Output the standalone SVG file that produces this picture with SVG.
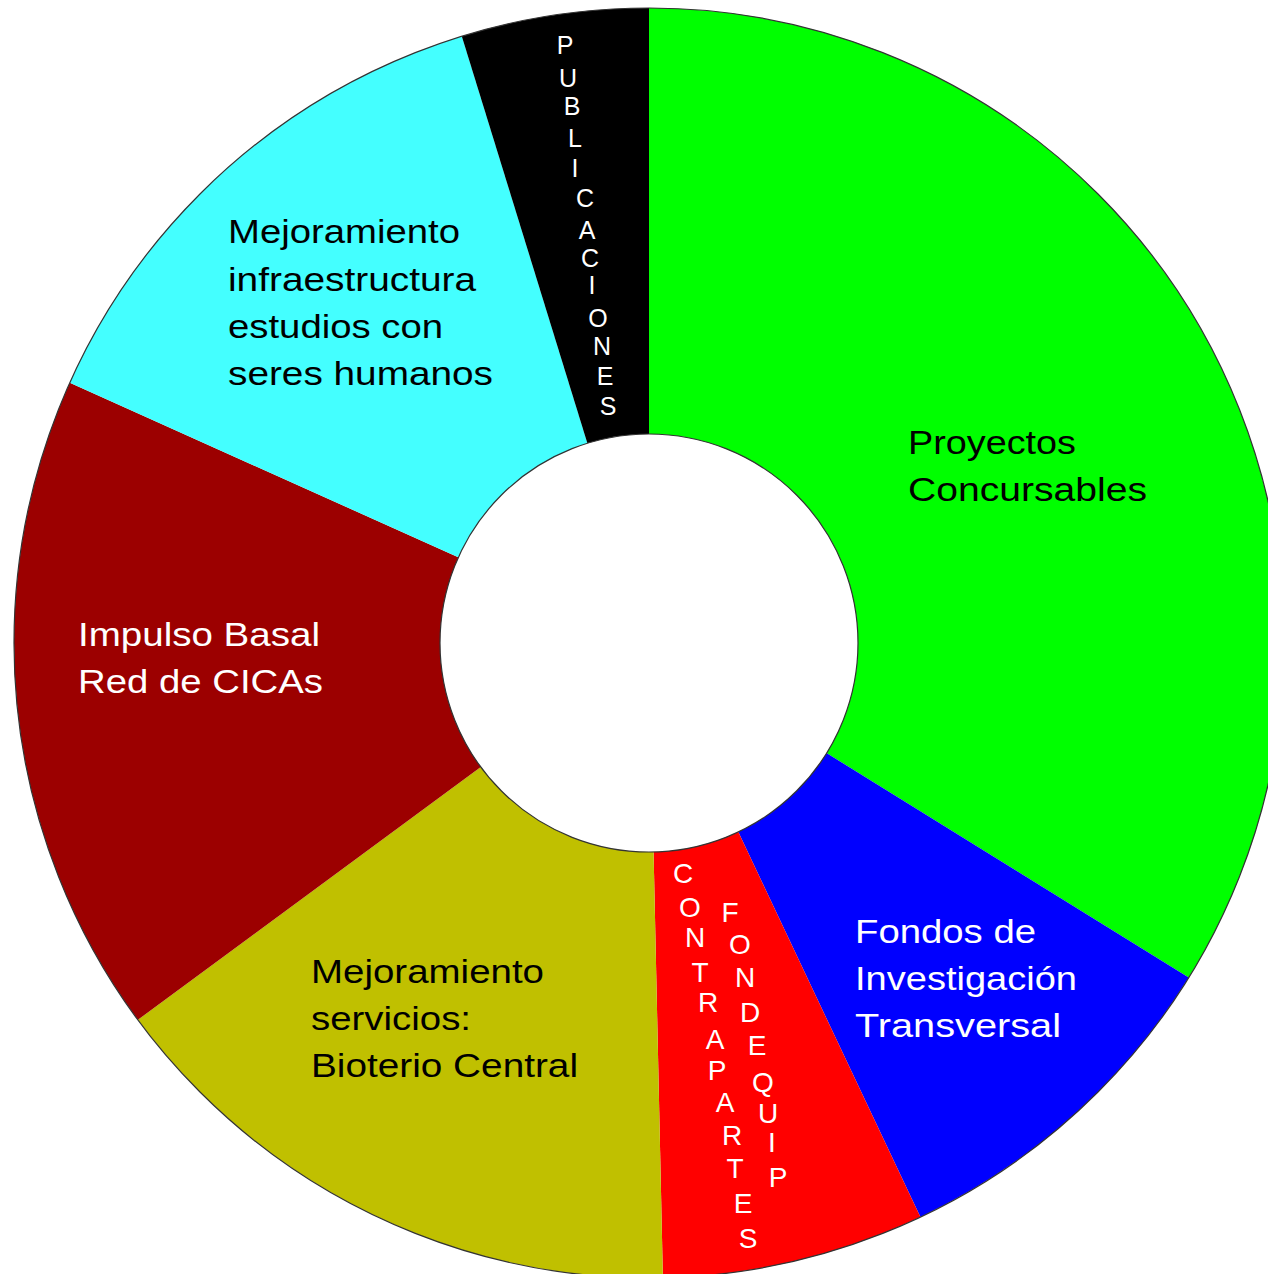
<svg xmlns="http://www.w3.org/2000/svg" width="1268" height="1274" viewBox="0 0 1268 1274">
<style>
.lbl{font-family:"Liberation Sans",Arial,sans-serif;font-size:34px}
.v1{font-family:"Liberation Sans",Arial,sans-serif;font-size:25px;fill:#fff;text-anchor:middle}
.v2{font-family:"Liberation Sans",Arial,sans-serif;font-size:28px;fill:#fff;text-anchor:middle}
.dark{fill:#000}
.light{fill:#fff}
</style>
<rect width="1268" height="1274" fill="#fff"/>
<g id="proyectos">
<path d="M649 643 L649 8 A635 635 0 0 1 1188.7 977.6 Z" fill="#00ff00"/>
<text class="lbl dark" x="908" y="454" textLength="168" lengthAdjust="spacingAndGlyphs">Proyectos</text>
<text class="lbl dark" x="908" y="501" textLength="239" lengthAdjust="spacingAndGlyphs">Concursables</text>
</g>
<g id="fondos">
<path d="M649 643 L1188.7 977.6 A635 635 0 0 1 920.4 1217.1 Z" fill="#0000ff"/>
<text class="lbl light" x="855" y="943" textLength="181" lengthAdjust="spacingAndGlyphs">Fondos de</text>
<text class="lbl light" x="855" y="990" textLength="222" lengthAdjust="spacingAndGlyphs">Investigación</text>
<text class="lbl light" x="855" y="1037" textLength="206" lengthAdjust="spacingAndGlyphs">Transversal</text>
</g>
<g id="contrapartes">
<path d="M649 643 L920.4 1217.1 A635 635 0 0 1 662.9 1277.8 Z" fill="#ff0000"/>
<text class="v2" x="683" y="883">C</text>
<text class="v2" x="690" y="917">O</text>
<text class="v2" x="695" y="947">N</text>
<text class="v2" x="700" y="982">T</text>
<text class="v2" x="708" y="1012">R</text>
<text class="v2" x="715" y="1049">A</text>
<text class="v2" x="717" y="1080">P</text>
<text class="v2" x="725" y="1112">A</text>
<text class="v2" x="732" y="1145">R</text>
<text class="v2" x="735" y="1178">T</text>
<text class="v2" x="743" y="1213">E</text>
<text class="v2" x="748" y="1248">S</text>
<text class="v2" x="730" y="922">F</text>
<text class="v2" x="740" y="954">O</text>
<text class="v2" x="745" y="987">N</text>
<text class="v2" x="750" y="1022">D</text>
<text class="v2" x="757" y="1055">E</text>
<text class="v2" x="763" y="1092">Q</text>
<text class="v2" x="768" y="1123">U</text>
<text class="v2" x="772" y="1152">I</text>
<text class="v2" x="778" y="1187">P</text>
</g>
<g id="bioterio">
<path d="M649 643 L662.9 1277.8 A635 635 0 0 1 137.9 1019.8 Z" fill="#c0c000"/>
<text class="lbl dark" x="311" y="983" textLength="233" lengthAdjust="spacingAndGlyphs">Mejoramiento</text>
<text class="lbl dark" x="311" y="1030" textLength="160" lengthAdjust="spacingAndGlyphs">servicios:</text>
<text class="lbl dark" x="311" y="1077" textLength="267" lengthAdjust="spacingAndGlyphs">Bioterio Central</text>
</g>
<g id="impulso">
<path d="M649 643 L137.9 1019.8 A635 635 0 0 1 69.8 382.7 Z" fill="#9c0000"/>
<text class="lbl light" x="78" y="646" textLength="242" lengthAdjust="spacingAndGlyphs">Impulso Basal</text>
<text class="lbl light" x="78" y="693" textLength="245" lengthAdjust="spacingAndGlyphs">Red de CICAs</text>
</g>
<g id="infraestructura">
<path d="M649 643 L69.8 382.7 A635 635 0 0 1 461.8 36.2 Z" fill="#44ffff"/>
<text class="lbl dark" x="228" y="243" textLength="232" lengthAdjust="spacingAndGlyphs">Mejoramiento</text>
<text class="lbl dark" x="228" y="291" textLength="248" lengthAdjust="spacingAndGlyphs">infraestructura</text>
<text class="lbl dark" x="228" y="338" textLength="215" lengthAdjust="spacingAndGlyphs">estudios con</text>
<text class="lbl dark" x="228" y="385" textLength="265" lengthAdjust="spacingAndGlyphs">seres humanos</text>
</g>
<g id="publicaciones">
<path d="M649 643 L461.8 36.2 A635 635 0 0 1 649 8 Z" fill="#000"/>
<text class="v1" x="565 568 572 575 575 585 587 590 592 598 602 605 608" y="54 87 115 147 177 207 239 267 294 327 355 385 415">PUBLICACIONES</text>
</g>
<g id="outline">
<circle cx="649" cy="643" r="635" fill="none" stroke="#333" stroke-width="1.2"/>
<circle cx="649" cy="643" r="209" fill="#fff" stroke="#333" stroke-width="1.2"/>
</g>
</svg>
